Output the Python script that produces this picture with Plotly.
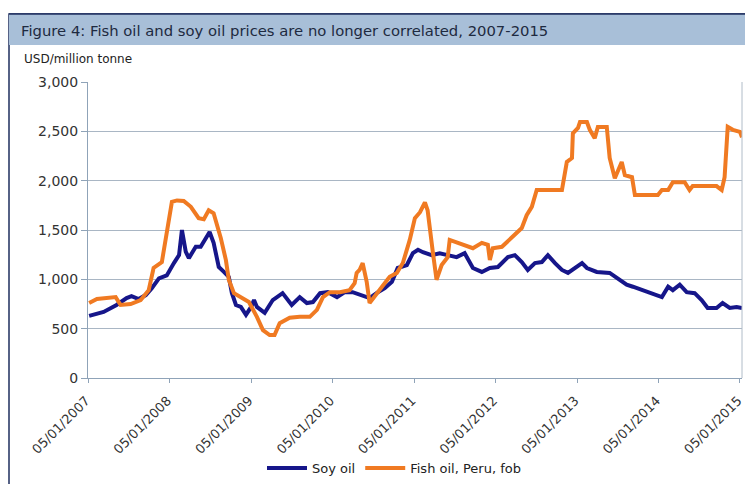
import plotly.graph_objects as go

# ---------------- data ----------------
soy_dates = [
    "2007-01-10", "2007-03-16", "2007-05-13", "2007-06-27", "2007-07-19", "2007-08-20",
    "2007-09-21", "2007-10-18", "2007-11-19", "2007-12-24", "2008-01-25", "2008-02-17",
    "2008-03-01", "2008-03-18", "2008-04-01", "2008-05-02", "2008-05-24", "2008-06-16",
    "2008-07-03", "2008-07-21", "2008-08-13", "2008-09-05", "2008-09-27", "2008-10-11",
    "2008-10-29", "2008-11-20", "2008-12-13", "2009-01-05", "2009-01-18", "2009-01-31",
    "2009-03-07", "2009-04-12", "2009-05-26", "2009-07-06", "2009-08-11", "2009-09-12",
    "2009-10-09", "2009-11-10", "2009-12-15", "2010-01-25", "2010-03-01", "2010-04-05",
    "2010-05-15", "2010-06-20", "2010-07-21", "2010-08-27", "2010-09-28", "2010-10-24",
    "2010-12-04", "2010-12-31", "2011-01-23", "2011-02-14", "2011-03-25", "2011-04-30",
    "2011-06-05", "2011-07-15", "2011-08-20", "2011-09-26", "2011-11-05", "2011-12-11",
    "2012-01-16", "2012-03-01", "2012-04-01", "2012-05-02", "2012-05-29", "2012-06-30",
    "2012-07-31", "2012-08-27", "2012-09-28", "2012-10-29", "2012-11-25", "2012-12-26",
    "2013-01-27", "2013-02-18", "2013-04-03", "2013-05-31", "2013-07-15", "2013-08-15",
    "2013-09-12", "2013-10-26", "2013-12-11", "2014-01-20", "2014-02-17", "2014-03-10",
    "2014-04-10", "2014-05-11", "2014-06-16", "2014-07-17", "2014-08-13", "2014-09-22",
    "2014-10-19", "2014-11-20", "2014-12-21", "2015-01-14",
]
soy_values = [
    630, 670, 740, 810, 830, 800,
    840, 910, 1010, 1040, 1165, 1245,
    1500, 1280, 1215, 1330, 1330, 1420,
    1480, 1370, 1125, 1075, 1025, 860,
    740, 720, 640, 720, 790, 720,
    660, 790, 860, 740, 820, 760,
    770, 860, 870, 820, 870, 870,
    840, 810, 860, 910, 975, 1115,
    1145, 1265, 1300, 1275, 1245, 1265,
    1245, 1225, 1265, 1115, 1075, 1115,
    1125, 1225, 1245, 1175, 1095, 1165,
    1175, 1245, 1165, 1095, 1065, 1115,
    1165, 1115, 1075, 1065, 995, 945,
    925, 890, 860, 820, 925, 890,
    945, 870, 860, 790, 710, 710,
    760, 710, 720, 710,
]

fish_dates = [
    "2007-01-10", "2007-02-14", "2007-05-09", "2007-05-31", "2007-07-15", "2007-08-29",
    "2007-10-04", "2007-10-26", "2007-12-02", "2007-12-24", "2008-01-16", "2008-02-08",
    "2008-03-09", "2008-04-10", "2008-05-15", "2008-06-07", "2008-06-29", "2008-07-21",
    "2008-08-22", "2008-09-14", "2008-09-27", "2008-10-20", "2008-11-20", "2008-12-26",
    "2009-01-31", "2009-02-27", "2009-03-29", "2009-04-20", "2009-05-13", "2009-06-27",
    "2009-08-11", "2009-09-25", "2009-10-27", "2009-11-23", "2009-12-24", "2010-02-07",
    "2010-03-22", "2010-04-14", "2010-04-23", "2010-05-06", "2010-05-20", "2010-06-07",
    "2010-06-20", "2010-07-12", "2010-08-13", "2010-09-18", "2010-10-20", "2010-11-16",
    "2010-12-17", "2011-01-09", "2011-02-01", "2011-02-23", "2011-03-07", "2011-03-29",
    "2011-04-16", "2011-05-09", "2011-06-05", "2011-06-14", "2011-07-20", "2011-08-20",
    "2011-09-26", "2011-11-05", "2011-12-02", "2011-12-11", "2011-12-24", "2012-02-03",
    "2012-03-18", "2012-05-02", "2012-05-24", "2012-06-16", "2012-07-08", "2012-10-29",
    "2012-11-20", "2012-12-13", "2012-12-17", "2013-01-09", "2013-01-18", "2013-02-18",
    "2013-03-03", "2013-03-25", "2013-04-08", "2013-05-18", "2013-05-31", "2013-06-23",
    "2013-07-24", "2013-08-07", "2013-09-08", "2013-09-21", "2014-01-02", "2014-01-20",
    "2014-02-17", "2014-03-10", "2014-05-02", "2014-05-24", "2014-06-07", "2014-09-22",
    "2014-10-15", "2014-10-28", "2014-11-11", "2014-12-04", "2015-01-05", "2015-01-14",
]
fish_values = [
    760, 800, 820, 740, 750, 790,
    890, 1115, 1175, 1500, 1785, 1800,
    1795, 1735, 1620, 1610, 1700, 1670,
    1420, 1195, 995, 860, 820, 770,
    620, 485, 435, 435, 555, 610,
    620, 620, 690, 820, 870, 870,
    890, 960, 1065, 1095, 1165, 975,
    760, 820, 920, 1025, 1065, 1165,
    1400, 1620, 1680, 1780, 1700, 1300,
    995, 1145, 1225, 1400, 1370, 1350,
    1315, 1370, 1350, 1195, 1315, 1330,
    1430, 1520, 1650, 1735, 1905, 1905,
    2190, 2230, 2480, 2535, 2595, 2595,
    2515, 2430, 2545, 2545, 2230, 2025,
    2190, 2055, 2035, 1855, 1855, 1905,
    1905, 1985, 1985, 1905, 1945, 1945,
    1905, 2035, 2545, 2515, 2495, 2440,
]

tick_dates = ["2007-01-05", "2008-01-05", "2009-01-05", "2010-01-05", "2011-01-05",
              "2012-01-05", "2013-01-05", "2014-01-05", "2015-01-05"]
tick_labels = ["05/01/2007", "05/01/2008", "05/01/2009", "05/01/2010", "05/01/2011",
               "05/01/2012", "05/01/2013", "05/01/2014", "05/01/2015"]

title_text = "Figure 4: Fish oil and soy oil prices are no longer correlated, 2007-2015"
unit_text = "USD/million tonne"

SOY_COLOR = "#16168a"
FISH_COLOR = "#f07a22"
FONT = "DejaVu Sans"

fig = go.Figure()
fig.add_trace(go.Scatter(x=soy_dates, y=soy_values, mode="lines", name="Soy oil",
                         line=dict(color=SOY_COLOR, width=4)))
fig.add_trace(go.Scatter(x=fish_dates, y=fish_values, mode="lines", name="Fish oil, Peru, fob",
                         line=dict(color=FISH_COLOR, width=4)))

# geometry helpers (pixel -> paper)
L, R, T, B = 88, 742, 82, 378
W, H = R - L, B - T
def px(x):
    return (x - L) / W
def py(y):
    return (B - y) / H

fig.update_layout(
    width=745, height=484,
    margin=dict(l=L, r=745 - R, t=T, b=484 - B, autoexpand=False),
    paper_bgcolor="white", plot_bgcolor="white",
    font=dict(family=FONT, size=12, color="#333333"),
    showlegend=True,
    legend=dict(orientation="h", x=px(394), xanchor="center", y=py(468), yanchor="middle",
                font=dict(size=13, color="#222222"), itemwidth=40,
                bgcolor="rgba(0,0,0,0)", tracegroupgap=0),
    shapes=[
        # outer frame
        dict(type="rect", xref="paper", yref="paper", x0=px(9), x1=px(760), y0=py(500), y1=py(14),
             line=dict(color="#1f2f5f", width=1.5), fillcolor="rgba(0,0,0,0)", layer="below"),
        # title band
        dict(type="rect", xref="paper", yref="paper", x0=px(9), x1=px(760), y0=py(45), y1=py(14),
             line=dict(width=0), fillcolor="#a8bfd8", layer="below"),
        dict(type="line", xref="paper", yref="paper", x0=px(9), x1=px(760), y0=py(14), y1=py(14),
             line=dict(color="#1f2f5f", width=1.5)),
        # plot area right border
        dict(type="line", xref="paper", yref="paper", x0=1, x1=1, y0=0, y1=1,
             line=dict(color="#b0bcc8", width=1)),
    ],
    annotations=[
        dict(text=title_text, xref="paper", yref="paper", x=px(19), y=py(30),
             xanchor="left", yanchor="middle", showarrow=False,
             font=dict(family=FONT, size=14.8, color="#1e2a40")),
        dict(text=unit_text, xref="paper", yref="paper", x=px(22), y=py(59),
             xanchor="left", yanchor="middle", showarrow=False,
             font=dict(family=FONT, size=12, color="#222222")),
    ],
)

fig.update_xaxes(
    type="date", range=["2007-01-05", "2015-01-14"],
    tickvals=tick_dates, ticktext=tick_labels, tickangle=-45,
    tickfont=dict(size=13, color="#333333"),
    ticklabelshift=-2, ticklabelstandoff=5, ticklabeloverflow="allow", automargin=False,
    showgrid=False, showline=True, linecolor="#8fa3b8", linewidth=1,
    ticks="outside", ticklen=4, tickcolor="#8fa3b8", zeroline=False,
)
fig.update_yaxes(
    range=[0, 3000], tickvals=[0, 500, 1000, 1500, 2000, 2500, 3000],
    ticktext=["0", "500", "1,000", "1,500", "2,000", "2,500", "3,000"],
    tickfont=dict(size=14, color="#333333"), automargin=False,
    showgrid=True, gridcolor="#a9b6c4", gridwidth=1,
    showline=True, linecolor="#8fa3b8", linewidth=1,
    ticks="outside", ticklen=6, tickcolor="#8fa3b8", zeroline=False,
)

fig.write_html("out.html")
